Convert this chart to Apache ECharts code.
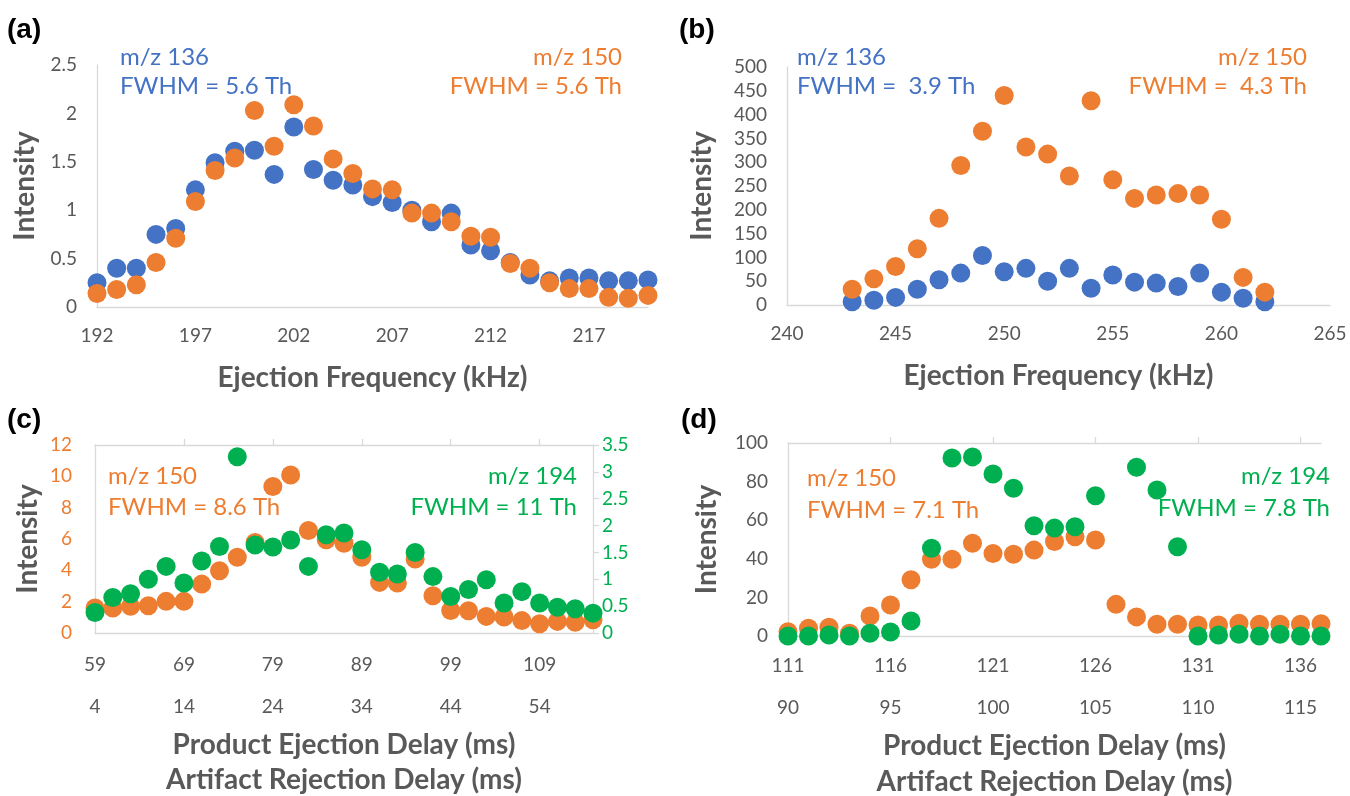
<!DOCTYPE html>
<html>
<head>
<meta charset="utf-8">
<script src="https://cdn.jsdelivr.net/npm/echarts@6/dist/echarts.min.js"></script>
<style>
html,body{margin:0;padding:0;background:#fff;}
#chart{width:1350px;height:796px;}
</style>
</head>
<body>
<div id="chart"></div>
<script>
// ---- Data ----
// Panel (a)
const freqA = [192,193,194,195,196,197,198,199,200,201,202,203,204,205,206,207,208,209,210,211,212,213,214,215,216,217,218,219,220];
const a136 = [0.25,0.40,0.40,0.75,0.81,1.21,1.49,1.61,1.62,1.37,1.86,1.42,1.31,1.26,1.14,1.08,1.00,0.88,0.97,0.64,0.58,0.46,0.33,0.27,0.30,0.30,0.27,0.27,0.28];
const a150 = [0.14,0.18,0.23,0.46,0.71,1.09,1.41,1.54,2.03,1.66,2.09,1.87,1.53,1.38,1.22,1.21,0.97,0.97,0.88,0.73,0.72,0.45,0.40,0.25,0.19,0.19,0.10,0.09,0.12];
const ticksAx = [192,197,202,207,212,217];
// Panel (b)
const freqB = [243,244,245,246,247,248,249,250,251,252,253,254,255,256,257,258,259,260,261,262];
const b136 = [7,10,16,33,53,67,104,70,77,50,77,35,63,48,46,39,67,27,14,7];
const b150 = [33,55,81,118,182,293,365,440,332,317,271,429,263,224,231,234,231,180,58,27];
const ticksBx = [240,245,250,255,260,265];
// Panel (c)
const delayC = [59,61,63,65,67,69,71,73,75,77,79,81,83,85,87,89,91,93,95,97,99,101,103,105,107,109,111,113,115];
const c150 = [1.59,1.59,1.70,1.74,2.02,2.02,3.12,3.97,4.84,5.78,9.35,10.09,6.54,5.95,5.73,4.84,3.23,3.19,4.72,2.38,1.44,1.42,1.06,1.02,0.79,0.59,0.74,0.68,0.85];
const c194 = [0.38,0.66,0.73,1.00,1.24,0.93,1.34,1.61,3.28,1.64,1.60,1.73,1.24,1.83,1.86,1.55,1.13,1.10,1.50,1.05,0.68,0.81,0.99,0.56,0.77,0.56,0.48,0.45,0.37];
const ticksCx = [59,69,79,89,99,109];
const ticksCx2 = [4,14,24,34,44,54];
const ticksCtop = [69,79,89,99,109];
// Panel (d)
const delayD = [111,112,113,114,115,116,117,118,119,120,121,122,123,124,125,126,127,128,129,130,131,132,133,134,135,136,137];
const d150 = [2.2,4.0,4.5,1.4,10.4,16.1,29.1,39.8,39.8,48.1,42.7,42.4,44.5,49.0,51.4,49.7,16.4,9.9,6.1,6.1,5.7,5.7,6.6,6.1,6.1,6.1,6.4];
const d194 = [0,0,0.5,0,1.4,2.1,7.8,45.5,92.2,92.8,83.9,76.6,57.1,55.9,56.6,72.7,null,87.4,75.6,46.2,0,0.5,0.9,0,0.9,0,0];
const ticksDx = [111,116,121,126,131,136];
const ticksDx2 = [90,95,100,105,110,115];
const ticksDtop = [116,121,126,131,136];

// ---- Styles ----
const BLUE = '#4472C4', ORANGE = '#ED7D31', GREEN = '#00B050';
const GRAY = '#595959', LINE = '#D9D9D9';
const FONT = 'Lato, "Open Sans", sans-serif';
const TICK_FS = 19, TITLE_FS = 28, ANN_FS = 24;
const SYM = 19;

function pairs(xs, ys){ return xs.map((x,i)=> ys[i]==null ? null : [x, ys[i]]); }

function xAx(grid, min, max, ticks, opts){
  return Object.assign({
    type:'value', gridIndex:grid, min:min, max:max, position:'bottom',
    axisLine:{show:true, onZero:false, lineStyle:{color:LINE, width:1.3}},
    axisTick:{show:false}, splitLine:{show:false},
    axisLabel:{show:true, customValues:ticks, color:GRAY, fontSize:TICK_FS, fontFamily:FONT, margin:19},
    nameTextStyle:{color:GRAY, fontSize:TITLE_FS, fontWeight:'bold', fontFamily:FONT},
    nameLocation:'middle'
  }, opts||{});
}
function yAx(grid, min, max, interval, opts){
  return Object.assign({
    type:'value', gridIndex:grid, min:min, max:max, interval:interval,
    axisLine:{show:true, lineStyle:{color:LINE, width:1.3}},
    axisTick:{show:false}, splitLine:{show:false},
    axisLabel:{color:GRAY, fontSize:TICK_FS, fontFamily:FONT, margin:20},
    nameTextStyle:{color:GRAY, fontSize:TITLE_FS, fontWeight:'bold', fontFamily:FONT},
    nameLocation:'middle', nameRotate:90
  }, opts||{});
}
function sc(xi, yi, data, color, z){
  return {type:'scatter', xAxisIndex:xi, yAxisIndex:yi, data:data, symbolSize:SYM,
    itemStyle:{color:color, opacity:1}, z:z, silent:true, animation:false};
}
function txt(x, y, s, color, align, font){
  return {type:'text', x:x, y:y, silent:true,
    style:{text:s, fill:color, font:font||(ANN_FS+'px '+FONT), align:align||'left', verticalAlign:'middle'}};
}
const PANEL_FONT = 'bold 28px "Liberation Sans", Arial, sans-serif';

const option = {
  backgroundColor:'#fff',
  animation:false,
  grid:[
    {left:97, top:65, width:551, height:242, outerBoundsMode:'none'},
    {left:787, top:67, width:543, height:238, outerBoundsMode:'none'},
    {left:95, top:445, width:498, height:188, outerBoundsMode:'none'},
    {left:788, top:443, width:533, height:193, outerBoundsMode:'none'}
  ],
  xAxis:[
    // 0: (a)
    xAx(0, 192, 220, ticksAx, {name:'Ejection Frequency (kHz)', nameGap:57}),
    // 1: (b)
    xAx(1, 240, 265, ticksBx, {name:'Ejection Frequency (kHz)', nameGap:57}),
    // 2: (c) bottom primary
    xAx(2, 59, 115, ticksCx, {name:'Product Ejection Delay (ms)', nameGap:98, axisLabel:{customValues:ticksCx, color:GRAY, fontSize:TICK_FS, fontFamily:FONT, margin:22}}),
    // 3: (c) bottom secondary labels
    xAx(2, 4, 60, ticksCx2, {name:'Artifact Rejection Delay (ms)', nameGap:133, axisLine:{show:false}, axisLabel:{customValues:ticksCx2, color:GRAY, fontSize:TICK_FS, fontFamily:FONT, margin:64}}),
    // 4: (c) top line with ticks
    xAx(2, 59, 115, ticksCtop, {position:'top', axisLabel:{show:false}, axisTick:{show:true, inside:false, length:6, customValues:ticksCtop, lineStyle:{color:LINE, width:1.3}}}),
    // 5: (d) bottom primary
    xAx(3, 111, 137, ticksDx, {name:'Product Ejection Delay (ms)', nameGap:96, axisLabel:{customValues:ticksDx, color:GRAY, fontSize:TICK_FS, fontFamily:FONT, margin:20}}),
    // 6: (d) bottom secondary labels
    xAx(3, 90, 116, ticksDx2, {name:'Artifact Rejection Delay (ms)', nameGap:132, axisLine:{show:false}, axisLabel:{customValues:ticksDx2, color:GRAY, fontSize:TICK_FS, fontFamily:FONT, margin:62}}),
    // 7: (d) top line with ticks
    xAx(3, 111, 137, ticksDtop, {position:'top', axisLabel:{show:false}, axisTick:{show:true, inside:false, length:6, customValues:ticksDtop, lineStyle:{color:LINE, width:1.3}}})
  ],
  yAxis:[
    // 0: (a)
    yAx(0, 0, 2.5, 0.5, {name:'Intensity', nameGap:58}),
    // 1: (b)
    yAx(1, 0, 500, 50, {name:'Intensity', nameGap:71}),
    // 2: (c) left
    yAx(2, 0, 12, 2, {name:'Intensity', nameGap:53, axisLabel:{color:ORANGE, fontSize:TICK_FS, fontFamily:FONT, margin:23}}),
    // 3: (c) right
    yAx(2, 0, 3.5, 0.5, {position:'right', axisTick:{show:true, inside:false, length:6, lineStyle:{color:LINE, width:1.3}}, axisLabel:{color:GREEN, fontSize:TICK_FS, fontFamily:FONT, margin:9}}),
    // 4: (d)
    yAx(3, 0, 100, 20, {name:'Intensity', nameGap:67})
  ],
  series:[
    sc(0,0,pairs(freqA,a136),BLUE,2),
    sc(0,0,pairs(freqA,a150),ORANGE,3),
    sc(1,1,pairs(freqB,b136),BLUE,2),
    sc(1,1,pairs(freqB,b150),ORANGE,3),
    sc(2,2,pairs(delayC,c150),ORANGE,2),
    sc(2,3,pairs(delayC,c194),GREEN,3),
    sc(5,4,pairs(delayD,d150),ORANGE,2),
    sc(5,4,pairs(delayD,d194),GREEN,3)
  ],
  graphic:[
    txt(7, 30, '(a)', '#000', 'left', PANEL_FONT),
    txt(679, 30, '(b)', '#000', 'left', PANEL_FONT),
    txt(7, 420, '(c)', '#000', 'left', PANEL_FONT),
    txt(681, 420, '(d)', '#000', 'left', PANEL_FONT),
    txt(120, 57, 'm/z 136', BLUE, 'left'),
    txt(120, 86, 'FWHM = 5.6 Th', BLUE, 'left'),
    txt(622, 57, 'm/z 150', ORANGE, 'right'),
    txt(622, 86, 'FWHM = 5.6 Th', ORANGE, 'right'),
    txt(797, 57, 'm/z 136', BLUE, 'left'),
    txt(797, 86, 'FWHM =  3.9 Th', BLUE, 'left'),
    txt(1307, 57, 'm/z 150', ORANGE, 'right'),
    txt(1307, 86, 'FWHM =  4.3 Th', ORANGE, 'right'),
    txt(108, 476, 'm/z 150', ORANGE, 'left'),
    txt(108, 507, 'FWHM = 8.6 Th', ORANGE, 'left'),
    txt(577, 476, 'm/z 194', GREEN, 'right'),
    txt(577, 507, 'FWHM = 11 Th', GREEN, 'right'),
    txt(807, 478, 'm/z 150', ORANGE, 'left'),
    txt(807, 510, 'FWHM = 7.1 Th', ORANGE, 'left'),
    txt(1330, 476, 'm/z 194', GREEN, 'right'),
    txt(1330, 508, 'FWHM = 7.8 Th', GREEN, 'right')
  ]
};

const chart = echarts.init(document.getElementById('chart'), null, {renderer:'canvas'});
chart.setOption(option);
</script>
</body>
</html>
